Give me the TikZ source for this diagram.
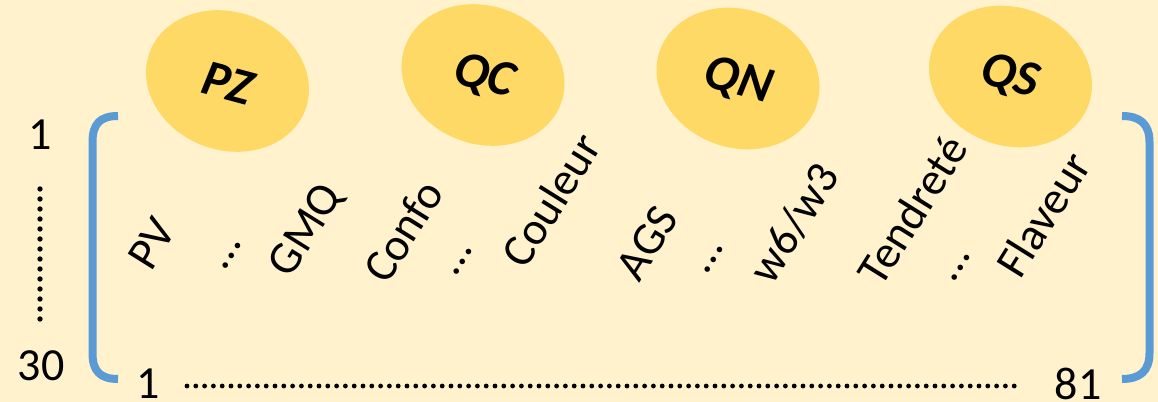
\documentclass[tikz,border=0pt]{standalone}
\usepackage{fontspec}
\setmainfont{Carlito}
\usetikzlibrary{shapes.geometric}
\definecolor{paper}{HTML}{FFF2CC}
\definecolor{gold}{HTML}{FFD966}
\definecolor{steel}{HTML}{5B9BD5}
\begin{document}
\begin{tikzpicture}[x=0.75pt,y=-0.75pt,
  blob/.style={ellipse, fill=gold, minimum width=124.5pt, minimum height=103.5pt,
               inner sep=0pt, rotate=-20},
  tag/.style={font=\fontsize{38}{44}\selectfont\bfseries\itshape, rotate=-15, inner sep=0pt},
  trait/.style={font=\fontsize{34.5}{40}\selectfont, rotate=58, inner sep=0pt},
  num/.style={font=\fontsize{34.5}{40}\selectfont, inner sep=0pt},
  brace/.style={draw=steel, line width=6pt},
  dotrow/.style={line width=3.6pt, line cap=round, dash pattern=on 0pt off 6.6pt}]
% canvas
\fill[paper] (0,0) rectangle (1158,402);
\useasboundingbox (0,0) rectangle (1158,402);

% group ellipses
\node[blob] (ePZ) at (227.5,81) {};
\node[blob] (eQC) at (483,75) {};
\node[blob] (eQN) at (738,78.5) {};
\node[blob] (eQS) at (1010.5,76.5) {};
\node[tag] (PZ) at (228,83) {PZ};
\node[tag] (QC) at (484,77) {QC};
\node[tag] (QN) at (738,81) {QN};
\node[tag] (QS) at (1010,77) {QS};

% matrix brackets
\draw[brace] (118,116) .. controls (100,116) and (92.5,124) .. (92.5,142)
  -- (92.5,353) .. controls (92.5,371) and (100,379) .. (118,379);
\draw[brace] (1122,116) .. controls (1140,116) and (1149.5,124) .. (1149.5,142)
  -- (1149.5,353) .. controls (1149.5,371) and (1140,379) .. (1122,379);

% column traits
\node[trait] (PV) at (152,244) {PV};
\node[trait] (d1) at (232,256) {…};
\node[trait] (GMQ) at (307,231) {GMQ};
\node[trait] (Confo) at (403,231) {Confo};
\node[trait] (d2) at (463,262) {…};
\node[trait] (Couleur) at (551,200) {Couleur};
\node[trait] (AGS) at (647,243) {AGS};
\node[trait] (d3) at (714,260) {…};
\node[trait] (w63) at (794,223) {w6/w3};
\node[trait] (Tend) at (912,210) {Tendreté};
\node[trait] (d4) at (961,268) {…};
\node[trait] (Flav) at (1043,214) {Flaveur};

% row and column indices
\node[num] (r1) at (40,135) {1};
\node[num] (r30) at (41,366) {30};
\node[num] (c1) at (148,384) {1};
\node[num] (c81) at (1078,384) {81};
\coordinate (rtop) at (40,189);
\coordinate (rbot) at (40,324);
\coordinate (cleft) at (187,386);
\coordinate (cright) at (1022,386);
\draw[dotrow, dash pattern=on 0pt off 7.5pt, line width=4pt] (rtop) -- (rbot);
\draw[dotrow] (cleft) -- (cright);
\end{tikzpicture}
\end{document}
